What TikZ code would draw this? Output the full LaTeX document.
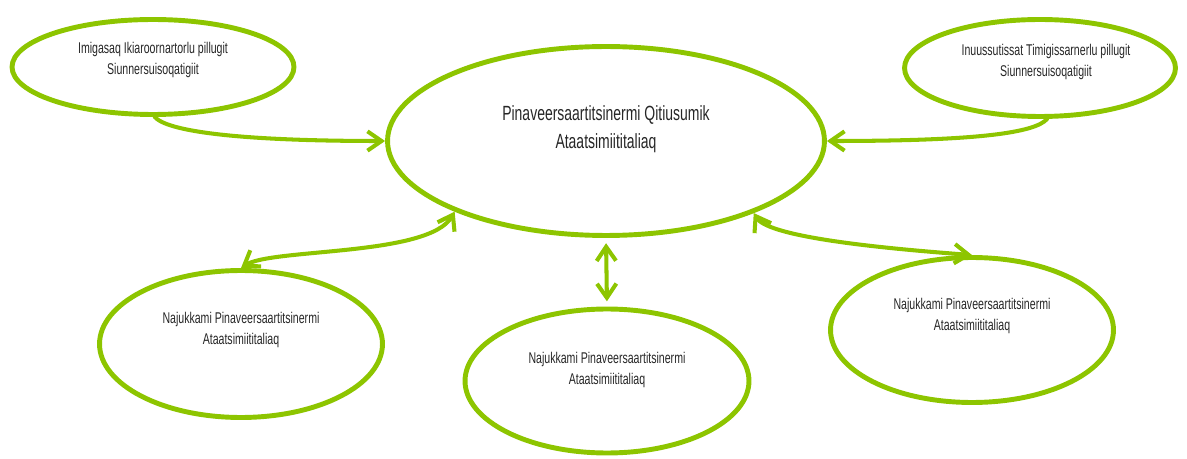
\documentclass[tikz,border=0pt]{standalone}
\usepackage{fontspec}
\newfontfamily\narrowsans[FakeStretch=0.68]{Liberation Sans}
\usetikzlibrary{shapes.geometric,arrows.meta}
\definecolor{leaf}{RGB}{141,197,0}
\begin{document}
\begin{tikzpicture}[x=0.02cm, y=-0.02cm, >={Straight Barb[length=8pt,width=11pt]}, line cap=round,
oval/.style={ellipse,draw=leaf,line width=2.8pt,inner sep=0pt},
oval text/.style={align=center,text=black!85,font={\narrowsans\fontsize{8.85pt}{11.6pt}\selectfont}},
link/.style={draw=leaf,line width=2.3pt}]
\useasboundingbox (0,0) rectangle (1187,459);
\node[oval,minimum width=8.74cm,minimum height=3.78cm] (c0) at (606,141) {};
\node[oval,minimum width=5.64cm,minimum height=1.90cm] (c1) at (153,67) {};
\node[oval,minimum width=5.42cm,minimum height=1.94cm] (c2) at (1040,68) {};
\node[oval,minimum width=5.66cm,minimum height=2.94cm] (c3) at (241,344) {};
\node[oval,minimum width=5.68cm,minimum height=2.88cm] (c4) at (607,381) {};
\node[oval,minimum width=5.66cm,minimum height=2.90cm] (c5) at (972,330) {};
\node[oval text,font={\narrowsans\fontsize{11.7pt}{15.9pt}\selectfont}] (t0) at (606,129) {Pinaveersaartitsinermi Qitiusumik\\Ataatsimiititaliaq};
\node[oval text] (t1) at (153,60) {Imigasaq Ikiaroornartorlu pillugit\\Siunnersuisoqatigiit};
\node[oval text] (t2) at (1046,62) {Inuussutissat Timigissarnerlu pillugit\\Siunnersuisoqatigiit};
\node[oval text] (t3) at (241,330) {Najukkami Pinaveersaartitsinermi\\Ataatsimiititaliaq};
\node[oval text] (t4) at (607,370) {Najukkami Pinaveersaartitsinermi\\Ataatsimiititaliaq};
\node[oval text] (t5) at (972,316) {Najukkami Pinaveersaartitsinermi\\Ataatsimiititaliaq};
\draw [link,->] (c1.-88) .. controls +(12,14) and +(-150,0) .. (c0.west);
\draw [link,->] (c2.-82) .. controls +(-12,14) and +(150,0) .. (c0.east);
\draw [link,<->] (c3.north) .. controls +(30,-20) and +(-25,45) .. (c0.205);
\draw [link,<->,shorten <=3pt,shorten >=3pt] (c0.south) -- (c4.north);
\draw [link,<->] (c0.334) .. controls +(15,25) and +(-80,-6) .. (c5.north);
\end{tikzpicture}
\end{document}
